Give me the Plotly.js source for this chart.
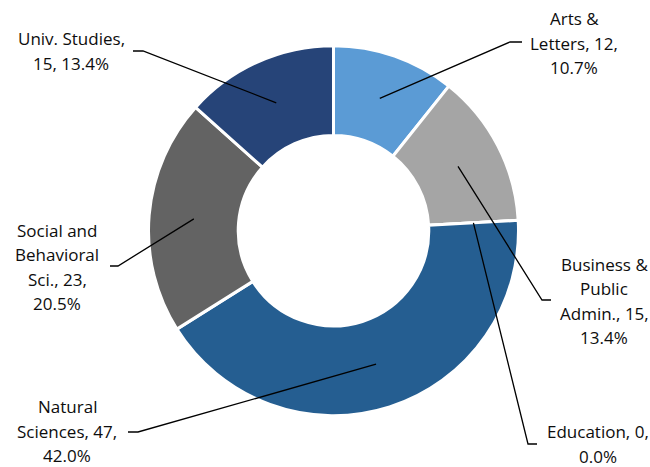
<!DOCTYPE html>
<html>
<head>
<meta charset="utf-8">
<script src="https://cdn.plot.ly/plotly-3.0.1.min.js"></script>
<style>html,body{margin:0;padding:0;background:#fff;}#chart{width:650px;height:467px;}</style>
</head>
<body>
<div id="chart"></div>
<script>
// ---- data ----
const categories = ["Arts & Letters", "Business & Public Admin.", "Education", "Natural Sciences", "Social and Behavioral Sci.", "Univ. Studies"];
const counts = [12, 15, 0, 47, 23, 15];
const colors = ["#5B9BD5", "#A5A5A5", "#FFC000", "#255E91", "#636363", "#264478"];

// ---- label layout (pixels): words per line, elbow point, line end, text centre ----
const wrapWords = [[2,2,1],[2,1,2,1],[2,1],[1,2,1],[2,1,2,1],[2,2]];
const elbowPx  = [[510,42],[542,300],[528,444],[138,432],[118,266],[143,51]];
const endPx    = [[522,42],[551,300],[537,444],[128,432],[110,266],[133,51]];
const textPx   = [[574,43],[604,301],[598,444],[67,431],[57,267],[71,51]];

const W = 650, H = 467;
const CX = 333.5, CY = 230.7, R = 185, HOLE = 0.515;
const domX = [(CX - R)/W, (CX + R)/W];
const domY = [(H - CY - R)/H, (H - CY + R)/H];
const px = x => x / W, py = y => 1 - y / H;

const total = counts.reduce((a,b)=>a+b,0);
const shapes = [], annotations = [];
let cum = 0;
const LH = 24.5;
counts.forEach((v,i)=>{
  const mid = (cum + v/2) / total;
  cum += v;
  const th = mid * 2 * Math.PI;
  const rMid = R * (1 + HOLE) / 2;
  const ax = CX + rMid * Math.sin(th), ay = CY - rMid * Math.cos(th);
  const e = elbowPx[i], en = endPx[i];
  shapes.push({type:'path', xref:'paper', yref:'paper',
    path:`M ${px(ax)} ${py(ay)} L ${px(e[0])} ${py(e[1])} L ${px(en[0])} ${py(en[1])}`,
    line:{color:'#000', width:1.3}});
  const pct = (v/total*100).toFixed(1);
  const words = `${categories[i]}, ${v}, ${pct}%`.split(' ');
  const lines = []; let k = 0;
  wrapWords[i].forEach(n=>{ lines.push(words.slice(k,k+n).join(' ')); k+=n; });
  const t = textPx[i];
  lines.forEach((ln,j)=>{
    const yy = t[1] + (j - (lines.length-1)/2) * LH;
    annotations.push({xref:'paper', yref:'paper', x:px(t[0]), y:py(yy), xanchor:'center', yanchor:'middle',
      text: ln, showarrow:false, borderpad:0, font:{family:'Open Sans, sans-serif', size:17, color:'#0d0d0d'}});
  });
});

const trace = {
  type:'pie', labels: categories, values: counts, sort:false, direction:'clockwise', rotation:0,
  hole: HOLE, textinfo:'none', hoverinfo:'none',
  marker:{colors: colors, line:{color:'#ffffff', width:3}},
  domain:{x:domX, y:domY}, showlegend:false
};

Plotly.newPlot('chart', [trace], {
  width:W, height:H, margin:{l:0,r:0,t:0,b:0},
  paper_bgcolor:'#ffffff', plot_bgcolor:'#ffffff',
  shapes: shapes, annotations: annotations, showlegend:false
}, {displayModeBar:false, staticPlot:true});
</script>
</body>
</html>
